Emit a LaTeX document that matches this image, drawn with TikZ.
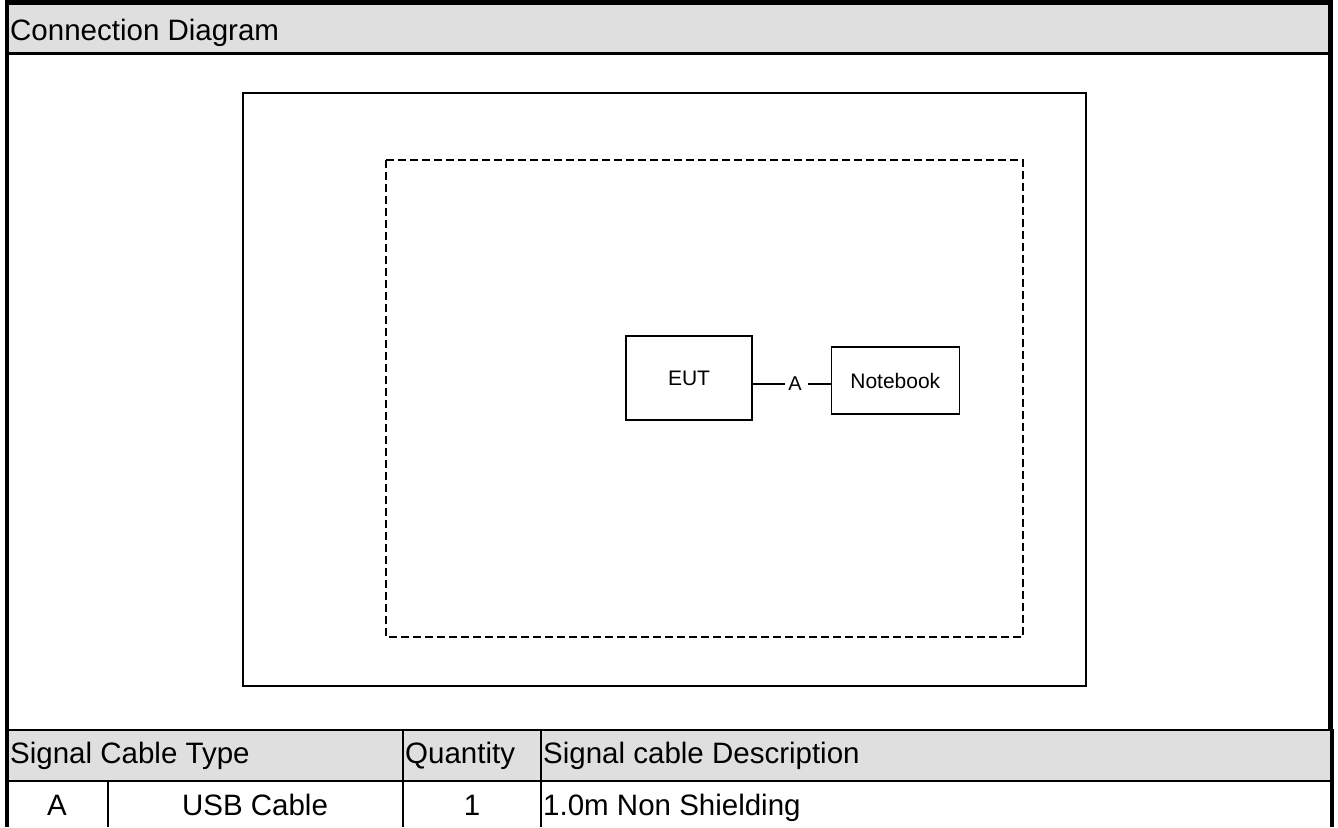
\documentclass[tikz,border=0pt]{standalone}
\usepackage{fontspec}
\setmainfont{Liberation Sans}
\usetikzlibrary{positioning}
\definecolor{headgray}{HTML}{DFDFDF}

\begin{document}
\begin{tikzpicture}[
                    x=1pt, y=-1pt, % one unit per pixel, y running down
                    every node/.style={font=\fontsize{21}{24}\selectfont, inner sep=0pt},
                    cell/.style={font=\fontsize{29.5}{33}\selectfont, anchor=base west},
                    cellc/.style={cell, anchor=base},
                    unit/.style={draw, line width=1.3pt, minimum width=126pt, minimum height=84pt},
                    cable/.style={line width=1.3pt}
                ]
                \useasboundingbox (0,0) rectangle (1338,827);

                % grey bands
                \fill[headgray] (8,5) rectangle (1328,52);
                \fill[headgray] (8,731) rectangle (1330,780);

                % outer frame and table rules
                \draw[line width=5pt] (5,2.5) -- (1333,2.5);
                \draw[line width=4pt] (7,0) -- (7,827);
                \draw[line width=4.5pt] (1330.5,0) -- (1330.5,730);
                \draw[line width=4.5pt] (1332,729) -- (1332,827);
                \draw[line width=3pt] (7,53.5) -- (1330,53.5);
                \draw[line width=2pt] (7,730) -- (1333,730);
                \draw[line width=2.5pt] (7,781) -- (1333,781);
                \draw[line width=2pt]
                    (403,730) -- (403,827)
                    (541,730) -- (541,827)
                    (108,781) -- (108,827);

                % test set-up
                \draw[line width=1.3pt] (243,93) rectangle (1086,686);
                \draw[line width=1.5pt, dash pattern=on 8pt off 4pt] (386,160) rectangle (1023,637);

                \node[unit] (eut) at (689,378) {EUT};
                \node[unit, minimum width=128pt, minimum height=67pt, right=78pt of eut, yshift=-2.5pt] (nb) {Notebook};
                \node[font=\fontsize{20}{24}\selectfont] (cabA) at (795,384) {A};
                \draw[cable] (eut.east |- cabA) -- ([xshift=-3.5pt]cabA.west);
                \draw[cable] ([xshift=6.5pt]cabA.east) -- (nb.west |- cabA);

                % texts
                \node[cell] (title) at (10,40) {Connection Diagram};
                \node[cell] (hType) at (10,763) {Signal Cable Type};
                \node[cell] (hQty) at (405,763) {Quantity};
                \node[cell] (hDesc) at (543,763) {Signal cable Description};
                \node[cellc] (rId) at (57,815) {A};
                \node[cellc] (rType) at (255,815) {USB Cable};
                \node[cellc] (rQty) at (472,815) {1};
                \node[cell] (rDesc) at (543,815) {1.0m Non Shielding};
            \end{tikzpicture}
\end{document}
